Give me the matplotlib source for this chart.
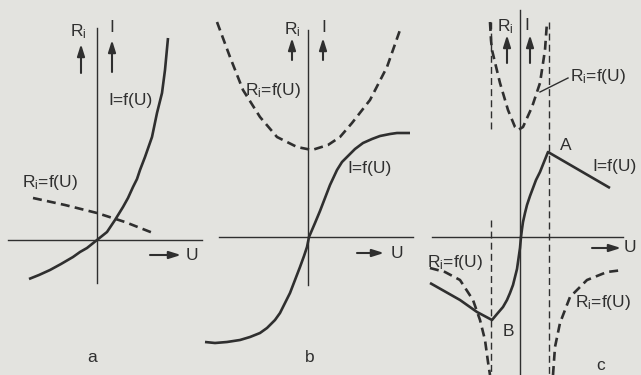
import matplotlib
matplotlib.use("Agg")
import matplotlib.pyplot as plt

plt.rcParams['font.family'] = ['Liberation Sans', 'DejaVu Sans']
plt.rcParams['mathtext.default'] = 'regular'

# ---------------- curve data (U to the right, I / R_i upward) ----------------
# a) exponential characteristic, R_i falling
a_U_I = [-68, -58, -47, -36, -24, -17, -10, -5, 0, 10, 18, 26, 31, 36, 40, 43, 48,
         55, 60, 65, 68, 71]
a_I = [-39, -35, -30, -24, -17, -12, -8, -4, 0, 8, 20, 33, 42, 53, 61, 70, 83,
       103, 127, 147, 170, 202]
a_U_R = [-64, -32, 0, 28, 56]
a_R = [42, 35, 27, 18, 7]

# b) saturating (S-shaped) characteristic, R_i with a minimum at U = 0
b_U_I = [-103, -93, -81, -68, -58, -48, -41, -33, -28, -23, -18, -13, -8, -4, -1, 1,
         7, 12, 17, 22, 29, 34, 39, 47, 55, 64, 72, 82, 89, 102]
b_I = [-105, -106, -105, -103, -100, -96, -91, -83, -76, -66, -56, -43, -30, -19, -10, 0,
       14, 26, 39, 52, 67, 75, 80, 88, 94, 98, 101, 103, 104, 104]
b_U_R = [-91, -78, -65, -48, -31, -11, 4, 20, 32, 44, 62, 79, 92]
b_R = [215, 180, 147, 120, 100, 90, 87, 92, 100, 114, 137, 170, 207]

# c) characteristic with falling branches beyond A and B
c_U_I = [-90, -60, -43, -28, -23, -17, -13, -10, -7, -5, -3, -2, 0, 1, 2, 3, 5, 7,
         10, 13, 16, 20, 24, 28, 90]
c_I = [-46, -63, -75, -83, -77, -70, -63, -56, -48, -40, -32, -25, -11, 0, 8, 15, 24, 32,
       41, 49, 57, 65, 75, 85, 49]
c_U_R_mid = [-30, -29, -28, -20, -12, -5, -2, 3, 12, 20, 25, 27]
c_R_mid = [215, 197, 187, 154, 127, 110, 107, 110, 130, 154, 187, 215]
c_U_R_left = [-90, -75, -60, -47, -40, -35, -32, -30]
c_R_left = [-31, -35, -43, -63, -83, -103, -125, -138]
c_U_R_right = [33, 35, 40, 50, 67, 87, 103]
c_R_right = [-138, -110, -86, -60, -43, -35, -33]
c_U_B, c_U_A = -29, 28.5

# ---------------- drawing ----------------
W, H = 641, 375
INK = '#2f2f2f'
PAPER = '#e3e3df'
FS = 12.5

fig = plt.figure(figsize=(W / 100, H / 100), dpi=100)
fig.patch.set_facecolor(PAPER)


def panel(ox, oy):
    ax = fig.add_axes([0, 0, 1, 1])
    ax.set_xlim(-ox, W - ox)
    ax.set_ylim(oy - H, oy)
    ax.axis('off')
    ax.patch.set_alpha(0)
    return ax


def axes_cross(ax, u0, u1, i0, i1):
    ax.plot([u0, u1], [0, 0], color=INK, lw=1.0)
    ax.plot([0, 0], [i0, i1], color=INK, lw=1.0)


def solid(ax, u, i):
    ax.plot(u, i, color=INK, lw=1.9, solid_joinstyle='round', solid_capstyle='butt')


def dashed(ax, u, i):
    ax.plot(u, i, color=INK, lw=1.9, linestyle=(0, (3.4, 2.0)), dash_capstyle='butt')


def up_arrow(ax, u, i0, i1):
    ax.annotate('', xy=(u, i1), xytext=(u, i0),
                arrowprops=dict(arrowstyle='-|>,head_length=0.7,head_width=0.22',
                                color=INK, lw=1.5, mutation_scale=10,
                                shrinkA=0, shrinkB=0))


def right_arrow(ax, u0, u1, i):
    ax.annotate('', xy=(u1, i), xytext=(u0, i),
                arrowprops=dict(arrowstyle='-|>,head_length=0.7,head_width=0.22',
                                color=INK, lw=1.5, mutation_scale=10,
                                shrinkA=0, shrinkB=0))


def label(ax, u, i, s, ha='left', size=FS):
    ax.text(u, i, s, ha=ha, va='center', color=INK, fontsize=size)


RI = 'R$_{i}$'
RIF = 'R$_{i}$=f(U)'

# panel a
ax = panel(97, 240)
axes_cross(ax, -89, 105, -43, 212)
solid(ax, a_U_I, a_I)
dashed(ax, a_U_R, a_R)
label(ax, -19, 208, RI, ha='center')
up_arrow(ax, -16, 167, 196)
label(ax, 15, 212, 'I', ha='center')
up_arrow(ax, 15, 168, 200)
label(ax, 11, 140, 'I=f(U)')
label(ax, -75, 57, RIF)
right_arrow(ax, 53, 84, -15)
label(ax, 95, -15, 'U', ha='center')
label(ax, -5, -117, 'a', ha='center')

# panel b
ax = panel(308, 237)
axes_cross(ax, -89, 105, -48, 207)
solid(ax, b_U_I, b_I)
dashed(ax, b_U_R, b_R)
label(ax, -16, 207, RI, ha='center')
up_arrow(ax, -16, 177, 199)
label(ax, 16, 209, 'I', ha='center')
up_arrow(ax, 15, 177, 199)
label(ax, -63, 147, RIF)
label(ax, 39, 69, 'I=f(U)')
right_arrow(ax, 49, 76, -16)
label(ax, 89, -16, 'U', ha='center')
label(ax, 2, -120, 'b', ha='center')

# panel c
ax = panel(520, 237)
axes_cross(ax, -88, 103, -140, 227)
for seg in ([215, 104], [17, -140]):
    ax.plot([c_U_B, c_U_B], seg, color=INK, lw=1.0, linestyle=(0, (5, 3)))
ax.plot([c_U_A, c_U_A], [215, -140], color=INK, lw=1.0, linestyle=(0, (5, 3)))
solid(ax, c_U_I, c_I)
dashed(ax, c_U_R_mid, c_R_mid)
dashed(ax, c_U_R_left, c_R_left)
dashed(ax, c_U_R_right, c_R_right)
label(ax, -15, 210, RI, ha='center')
up_arrow(ax, -13, 174, 202)
label(ax, 7, 212, 'I', ha='center')
up_arrow(ax, 10, 174, 202)
label(ax, 50, 160, RIF)
ax.plot([48, 20], [159, 145], color=INK, lw=1.0)
label(ax, 40, 92, 'A')
label(ax, 72, 70, 'I=f(U)')
right_arrow(ax, 72, 101, -11)
label(ax, 110, -11, 'U', ha='center')
label(ax, -93, -26, RIF)
label(ax, -17, -95, 'B')
label(ax, 55, -65, RIF)
label(ax, 81, -128, 'c', ha='center')

fig.savefig('out.png', dpi=100, facecolor=PAPER)
